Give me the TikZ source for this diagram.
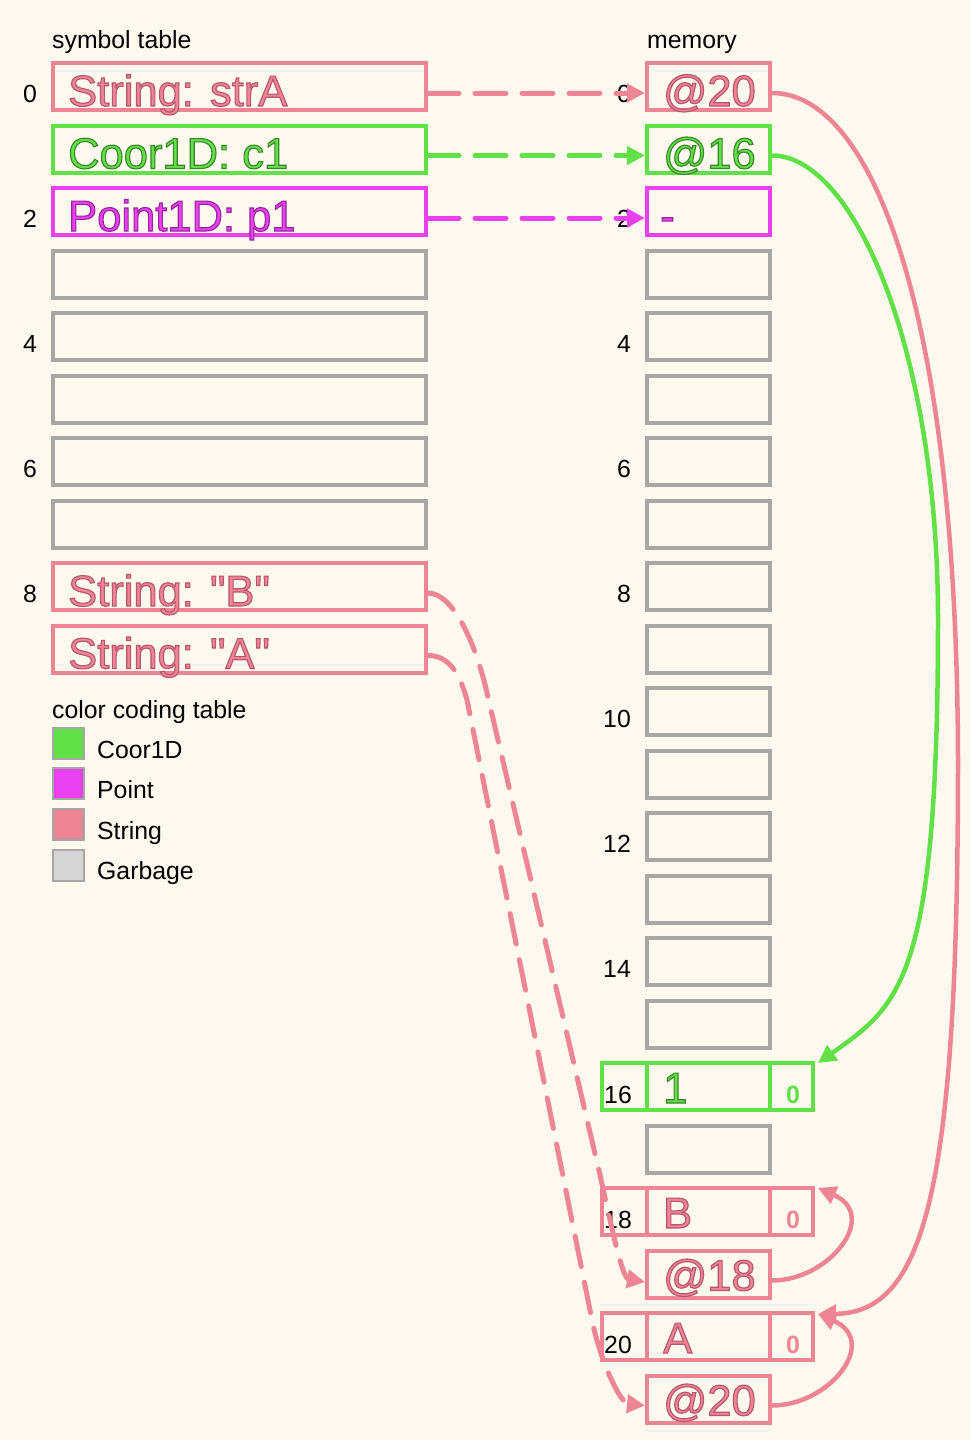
\documentclass[tikz,border=0pt]{standalone}
\usepackage{fontspec}
\setmainfont{Liberation Sans}[Ligatures=TeXOff]
\usetikzlibrary{arrows.meta,calc}
\definecolor{bg}{RGB}{254,249,238}
\definecolor{spink}{RGB}{238,133,149}
\definecolor{sgreen}{RGB}{98,224,72}
\definecolor{smag}{RGB}{233,64,240}
\definecolor{sgray}{RGB}{169,166,166}
\definecolor{lgray}{RGB}{214,214,214}
\newcommand\olt[2]{\special{pdf:code q 2 Tr 1.1 w #1 RG}#2\special{pdf:code Q}}
\newcommand\opink[1]{\olt{0.72 0.33 0.42}{#1}}
\newcommand\ogreen[1]{\olt{0.22 0.52 0.16}{#1}}
\newcommand\omag[1]{\olt{0.58 0.14 0.62}{#1}}
\begin{document}
\begin{tikzpicture}[x=1pt,y=-1pt,
  cell/.style={draw=#1, line width=4pt, inner sep=0pt, minimum height=47pt},
  symcell/.style={cell=#1, minimum width=373pt},
  memcell/.style={cell=#1, minimum width=123pt},
  extcell/.style={cell=#1, minimum width=211pt},
  bigtxt/.style={font=\fontsize{43.5}{50}\selectfont, text=#1, inner sep=0pt, anchor=base west},
  lbl/.style={font=\fontsize{24.8}{28}\selectfont, inner sep=0pt},
  zlbl/.style={font=\bfseries\fontsize{25}{28}\selectfont, text=#1, inner sep=0pt, anchor=base},
  legbox/.style={draw=sgray, line width=2pt, fill=#1, minimum size=31pt, inner sep=0pt},
  tipA/.style={-{Triangle[length=18pt,width=18pt]}},
  dconn/.style={draw=#1, line width=5pt, line cap=round, dash pattern=on 31pt off 16pt, tipA},
  sconn/.style={draw=#1, line width=4.5pt, tipA},
]
\useasboundingbox (0,0) rectangle (970,1440);
\fill[bg] (0,0) rectangle (970,1440);

% headers
\node[lbl, anchor=base west] (hsym) at (52,48) {symbol table};
\node[lbl, anchor=base west] (hmem) at (647,48) {memory};
\node[lbl, anchor=base west] (hleg) at (52,718) {color coding table};

% symbol table cells
\foreach \i/\c in {0/spink,1/sgreen,2/smag,3/sgray,4/sgray,5/sgray,6/sgray,7/sgray,8/spink,9/spink}{
  \node[symcell=\c] (s\i) at (239.5, 61+62.5*\i+25.5) {};
}
\foreach \i in {0,2,4,6,8}{
  \node[lbl, anchor=base] (si\i) at (30, 61+62.5*\i+41) {\i};
}
\node[bigtxt=spink] (s0t) at (68,106) {\opink{String: strA}};
\node[bigtxt=sgreen] (s1t) at (68,168.5) {\ogreen{Coor1D: c1}};
\node[bigtxt=smag] (s2t) at (68,231) {\omag{Point1D: p1}};
\node[bigtxt=spink] (s8t) at (68,606) {\opink{String: "B"}};
\node[bigtxt=spink] (s9t) at (68,668.5) {\opink{String: "A"}};

% memory labels (behind cells)
\foreach \i in {0,2,4,6,8,10,12,14}{
  \node[lbl, anchor=base east] (mi\i) at (631, 61+62.5*\i+41) {\i};
}

% extended cells
\node[extcell=sgreen] (e16) at (707.5, 61+62.5*16+25.5) {};
\node[extcell=spink] (e18) at (707.5, 61+62.5*18+25.5) {};
\node[extcell=spink] (e20) at (707.5, 61+62.5*20+25.5) {};
\foreach \i in {16,18,20}{
  \node[lbl, anchor=base east] (mi\i) at (632, 61+62.5*\i+42) {\i};
}

% memory cells
\foreach \i/\c in {0/spink,1/sgreen,2/smag,3/sgray,4/sgray,5/sgray,6/sgray,7/sgray,8/sgray,9/sgray,10/sgray,11/sgray,12/sgray,13/sgray,14/sgray,15/sgray,16/sgreen,17/sgray,18/spink,19/spink,20/spink,21/spink}{
  \node[memcell=\c] (m\i) at (708.5, 61+62.5*\i+25.5) {};
}
\node[bigtxt=spink] (m0t) at (663,106) {\opink{@20}};
\node[bigtxt=sgreen] (m1t) at (663,168.5) {\ogreen{@16}};
\node[bigtxt=smag] (m2t) at (660,231) {\omag{-}};
\node[bigtxt=sgreen] (m16t) at (663,1103) {\ogreen{1}};
\node[bigtxt=spink] (m18t) at (663,1228) {\opink{B}};
\node[bigtxt=spink] (m19t) at (663,1290.5) {\opink{@18}};
\node[bigtxt=spink] (m20t) at (663,1353) {\opink{A}};
\node[bigtxt=spink] (m21t) at (663,1415.5) {\opink{@20}};
\node[zlbl=sgreen] (z16) at (793,1103) {0};
\node[zlbl=spink] (z18) at (793,1228) {0};
\node[zlbl=spink] (z20) at (793,1353) {0};

% legend
\node[legbox=sgreen] (l1) at (68,743.5) {};
\node[legbox=smag] (l2) at (68,783.5) {};
\node[legbox=spink] (l3) at (68,824) {};
\node[legbox=lgray] (l4) at (68,865) {};
\node[lbl, anchor=base west] (l1t) at (97,758) {Coor1D};
\node[lbl, anchor=base west] (l2t) at (97,798.5) {Point};
\node[lbl, anchor=base west] (l3t) at (97,839) {String};
\node[lbl, anchor=base west] (l4t) at (97,879) {Garbage};

% straight dashed connectors
\draw[dconn=spink] ($(s0.east)+(0,6.5)$) -- ($(m0.west)+(0,6.5)$);
\draw[dconn=sgreen] ($(s1.east)+(0,6.5)$) -- ($(m1.west)+(0,6.5)$);
\draw[dconn=smag] ($(s2.east)+(0,6.5)$) -- ($(m2.west)+(0,6.5)$);

% curved dashed connectors
\draw[dconn=spink] ($(s8.east)+(0,6.5)$) .. controls +(24,0) and (475,640) .. (487,693)
   -- (600,1175) .. controls (610,1220) and (622,1278) .. ($(m19.west)+(0,8)$);
\draw[dconn=spink] ($(s9.east)+(0,6.5)$) .. controls +(22,0) and (460,675) .. (467,700)
   -- (592,1320) .. controls (600,1360) and (620,1403) .. ($(m21.west)+(0,6.5)$);

% solid curved connectors
\draw[sconn=spink] ($(m0.east)+(0,6.5)$) .. controls +(100,0) and (957,310) .. (958,760)
   .. controls (958,1190) and (925,1313) .. ($(e20.north east)+(3,3)$);
\draw[sconn=sgreen] ($(m1.east)+(0,6.5)$) .. controls +(82,0) and (938,350) .. (938,620)
   .. controls (938,980) and (900,1005) .. ($(e16.north east)+(3,2)$);
\draw[sconn=spink] ($(m19.east)+(0,6.5)$) .. controls +(58,0) and +(62,27) .. ($(e18.north east)+(3,2)$);
\draw[sconn=spink] ($(m21.east)+(0,6.5)$) .. controls +(58,0) and +(62,27) .. ($(e20.north east)+(3,3)$);
\end{tikzpicture}
\end{document}
